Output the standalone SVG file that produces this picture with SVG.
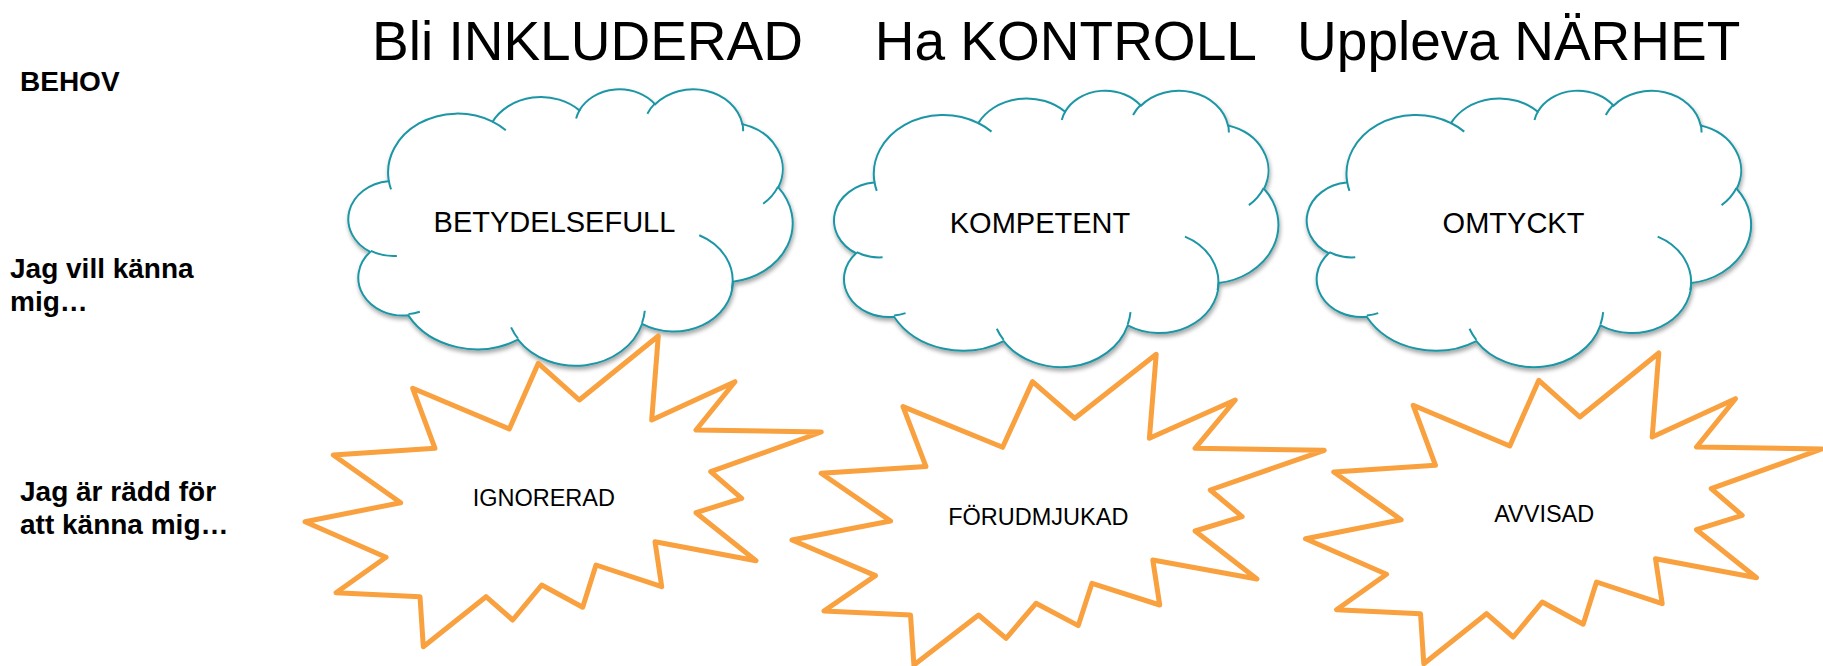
<svg xmlns="http://www.w3.org/2000/svg" xmlns:xlink="http://www.w3.org/1999/xlink" width="1823" height="666" viewBox="0 0 1823 666">
  <style>
    .bg { fill: #ffffff; }
    .title { font-family: "Liberation Sans", Arial, sans-serif; font-size: 55px; fill: #000000; text-anchor: middle; }
    .side { font-family: "Liberation Sans", Arial, sans-serif; font-size: 28px; font-weight: bold; fill: #000000; }
    .cloud-body { fill: #ffffff; stroke: #1C96A5; stroke-width: 2; vector-effect: non-scaling-stroke; }
    .cloud-inner { fill: none; stroke: #1C96A5; stroke-width: 2; vector-effect: non-scaling-stroke; }
    .cloud-label { font-family: "Liberation Sans", Arial, sans-serif; font-size: 29px; fill: #000000; text-anchor: middle; }
    .burst { fill: #ffffff; stroke: #F9A03F; stroke-width: 5; stroke-linejoin: round; vector-effect: non-scaling-stroke; }
    .burst-label { font-family: "Liberation Sans", Arial, sans-serif; font-size: 23.5px; fill: #000000; text-anchor: middle; }
  </style>
  <defs>
    <filter id="shadow" x="-10%" y="-10%" width="125%" height="130%">
      <feDropShadow dx="1" dy="3" stdDeviation="2" flood-color="#000000" flood-opacity="0.35"/>
    </filter>
    <path id="cloudBody" class="cloud-body" d="M3900,14370 A6753,9190 0 0 1 14007,5204 A5333,7267 0 0 1 22458,3434 A4365,5945 0 0 1 29837,2485 A4857,6595 0 0 1 38321,5583 A5333,7273 0 0 1 41821,15466 A6775,9220 0 0 1 37407,30209 A5785,7867 0 0 1 28558,36819 A6752,9215 0 0 1 16482,39267 A7720,10543 0 0 1 5804,35472 A4360,5918 0 0 1 2114,25549 A4345,5945 0 0 1 3864,14506 Z"/>
    <path id="cloudInner" class="cloud-inner" d="M4693,26177 A4345,5945 0 0 1 2160,25380 M6928,34899 A4360,5918 0 0 1 5819,35281 M16478,39090 A6752,9215 0 0 1 15811,37351 M28827,34751 A6752,9215 0 0 1 28560,36661 M34129,22954 A5785,7867 0 0 1 37300,31341 M41798,15354 A5333,7273 0 0 1 40350,18030 M38324,5426 A4857,6595 0 0 1 38400,6689 M29078,3952 A4857,6595 0 0 1 29821,2339 M22141,4720 A4365,5945 0 0 1 22500,3330 M14000,5192 A6753,9190 0 0 1 15298,6539 M4127,15789 A6753,9190 0 0 1 3900,14370"/>
    <polygon id="burstShape" class="burst" points="412.7,388.3 509.3,429 538.3,363.3 579.3,400 658.3,336 651.7,420 735,381.7 696,430 821.3,432 710.7,471.7 741.7,498.3 696,512.7 756,560.7 655,541.7 661.7,586.7 596,565 582.7,607.3 541.7,585 512.7,620 486,596.7 423.3,646.7 420,596.7 336,592.7 386,557.3 305,521.7 400.7,502.7 333.3,455 435,448.3"/>
  </defs>

  <rect class="bg" x="0" y="0" width="1823" height="666"/>

  <g id="titles">
    <text class="title" x="587.5" y="60">Bli INKLUDERAD</text>
    <text class="title" x="1065.8" y="60">Ha KONTROLL</text>
    <text class="title" x="1518.7" y="60">Uppleva NÄRHET</text>
  </g>

  <g id="row-labels">
    <text class="side" x="20" y="91">BEHOV</text>
    <text class="side" x="10" y="278">Jag vill känna</text>
    <text class="side" x="10" y="311">mig…</text>
    <text class="side" x="20" y="501">Jag är rädd för</text>
    <text class="side" x="20" y="534">att känna mig…</text>
  </g>

  <g id="cloud-betydelsefull">
    <g filter="url(#shadow)">
      <use xlink:href="#cloudBody" href="#cloudBody" transform="translate(348.66,88.4) scale(0.010273,0.006398)"/>
    </g>
    <use xlink:href="#cloudInner" href="#cloudInner" transform="translate(348.66,88.4) scale(0.010273,0.006398)"/>
    <text class="cloud-label" x="554.5" y="231.7">BETYDELSEFULL</text>
  </g>

  <g id="cloud-kompetent">
    <g filter="url(#shadow)">
      <use xlink:href="#cloudBody" href="#cloudBody" transform="translate(834.36,89.8) scale(0.010273,0.006398)"/>
    </g>
    <use xlink:href="#cloudInner" href="#cloudInner" transform="translate(834.36,89.8) scale(0.010273,0.006398)"/>
    <text class="cloud-label" x="1040" y="233">KOMPETENT</text>
  </g>

  <g id="cloud-omtyckt">
    <g filter="url(#shadow)">
      <use xlink:href="#cloudBody" href="#cloudBody" transform="translate(1307.06,89.8) scale(0.010273,0.006398)"/>
    </g>
    <use xlink:href="#cloudInner" href="#cloudInner" transform="translate(1307.06,89.8) scale(0.010273,0.006398)"/>
    <text class="cloud-label" x="1513.5" y="233">OMTYCKT</text>
  </g>

  <g id="burst-ignorerad">
    <use xlink:href="#burstShape" href="#burstShape"/>
    <text class="burst-label" x="543.8" y="505.7">IGNORERAD</text>
  </g>

  <g id="burst-forudmjukad">
    <use xlink:href="#burstShape" href="#burstShape" transform="translate(477.5,18.3) scale(1.031,1)"/>
    <text class="burst-label" x="1038.3" y="525">FÖRUDMJUKAD</text>
  </g>

  <g id="burst-avvisad">
    <use xlink:href="#burstShape" href="#burstShape" transform="translate(1000.5,17)"/>
    <text class="burst-label" x="1544.2" y="522.3">AVVISAD</text>
  </g>

  <g id="connectors"/>
</svg>
